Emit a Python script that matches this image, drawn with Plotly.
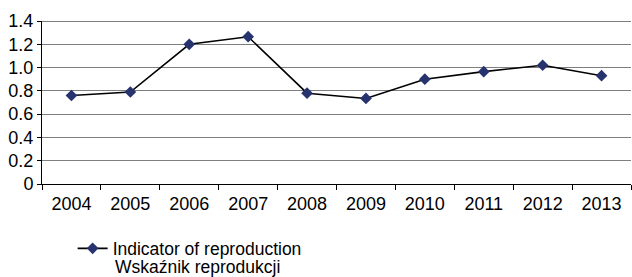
import plotly.graph_objects as go

years = ["2004", "2005", "2006", "2007", "2008", "2009", "2010", "2011", "2012", "2013"]
indicator = [0.76, 0.79, 1.20, 1.265, 0.78, 0.735, 0.90, 0.965, 1.02, 0.93]
series_name = "Indicator of reproduction"
series_name_pl = "Wskaźnik reprodukcji"
y_ticks = [0, 0.2, 0.4, 0.6, 0.8, 1.0, 1.2, 1.4]
y_labels = ["0", "0.2", "0.4", "0.6", "0.8", "1.0", "1.2", "1.4"]

FONT = "Liberation Sans, Arial, sans-serif"

fig = go.Figure()
fig.add_trace(go.Scatter(
    x=years, y=indicator, name=series_name, mode="lines+markers",
    line=dict(color="black", width=1.6),
    marker=dict(symbol="diamond", size=9, color="#27336e"),
))

fig.update_layout(
    width=632, height=277,
    margin=dict(l=42, r=1, t=21, b=93, autoexpand=False),
    paper_bgcolor="white", plot_bgcolor="white",
    font=dict(family=FONT, size=18, color="black"),
    showlegend=True,
    legend=dict(x=0.052, y=-0.285, xanchor="left", yanchor="top", valign="middle",
                font=dict(size=17.5), itemwidth=30, tracegroupgap=0,
                bgcolor="rgba(0,0,0,0)"),
    xaxis=dict(type="category", range=[-0.5, 9.5], showgrid=False, automargin=False,
               showline=True, linecolor="black", linewidth=1,
               ticks="outside", tickson="boundaries", ticklen=5, tickcolor="black",
               ticklabelstandoff=3, tickfont=dict(size=18)),
    yaxis=dict(range=[0, 1.4], tickvals=y_ticks, ticktext=y_labels, automargin=False,
               showgrid=True, gridcolor="#7f7f7f", gridwidth=1,
               showline=True, linecolor="black", linewidth=1,
               ticks="outside", ticklen=4, tickcolor="black",
               zeroline=False, tickfont=dict(size=18)),
)
fig.add_shape(type="line", xref="paper", yref="y", x0=0, x1=1, y0=1.4, y1=1.4,
              line=dict(color="black", width=1))
fig.add_annotation(text=series_name_pl, xref="paper", yref="paper",
                   x=(113 - 42) / 589, y=-(267 - 184) / 163,
                   xanchor="left", yanchor="middle", showarrow=False,
                   font=dict(family=FONT, size=17.5, color="black"))

fig.write_html("out.html", config={"displayModeBar": False},
               post_script="document.body.style.margin='0';document.body.style.overflow='hidden';")
